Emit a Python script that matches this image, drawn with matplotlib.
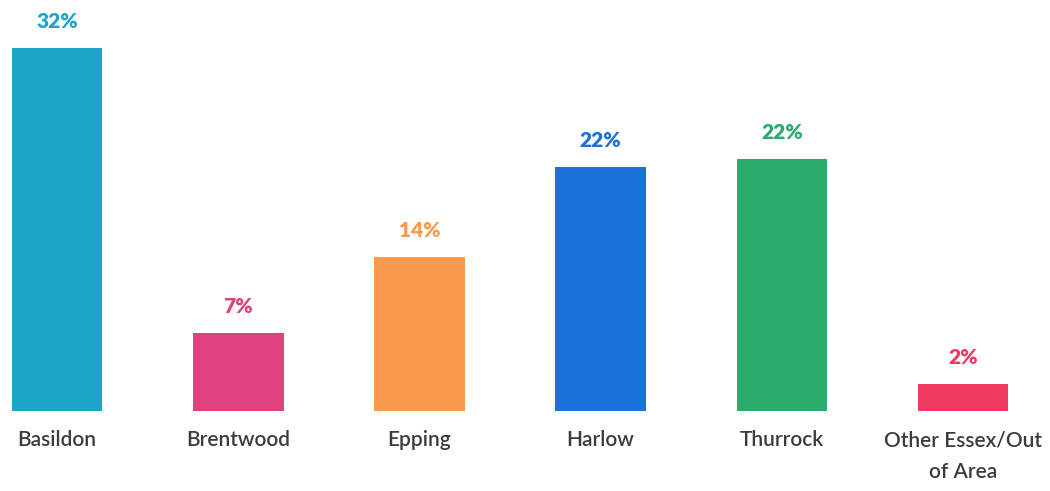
import matplotlib.pyplot as plt

areas = ['Basildon', 'Brentwood', 'Epping', 'Harlow', 'Thurrock', 'Other Essex/Out\nof Area']
shares = [32.0, 6.9, 13.6, 21.5, 22.2, 2.4]
share_labels = ['32%', '7%', '14%', '22%', '22%', '2%']
colors = ['#1ba5c9', '#e0417f', '#f99a4e', '#1a72d9', '#2aaa6c', '#f03a62']

plt.rcParams['font.family'] = ['Lato', 'DejaVu Sans']

fig = plt.figure(figsize=(10.5, 4.91), dpi=100)
ax = fig.add_axes([0, 0.163, 1, 0.837])

x = range(len(areas))
bars = ax.bar(x, shares, width=0.5, color=colors)

for b, lab, c in zip(bars, share_labels, colors):
    ax.annotate(lab, (b.get_x() + b.get_width() / 2, b.get_height()),
                xytext=(0, 12), textcoords='offset points',
                ha='center', va='bottom', color=c, fontsize=15, fontweight='heavy')

ax.set_xlim(-0.315, 5.48)
ax.set_ylim(0, 36.2)
ax.set_xticks(list(x))
ax.set_xticklabels(areas, fontsize=15, color='#3c3c3c', fontweight='semibold',
                   linespacing=1.7)
ax.tick_params(axis='x', length=0, pad=14)
ax.set_yticks([])
for s in ax.spines.values():
    s.set_visible(False)

fig.savefig('out.png', dpi=100)
